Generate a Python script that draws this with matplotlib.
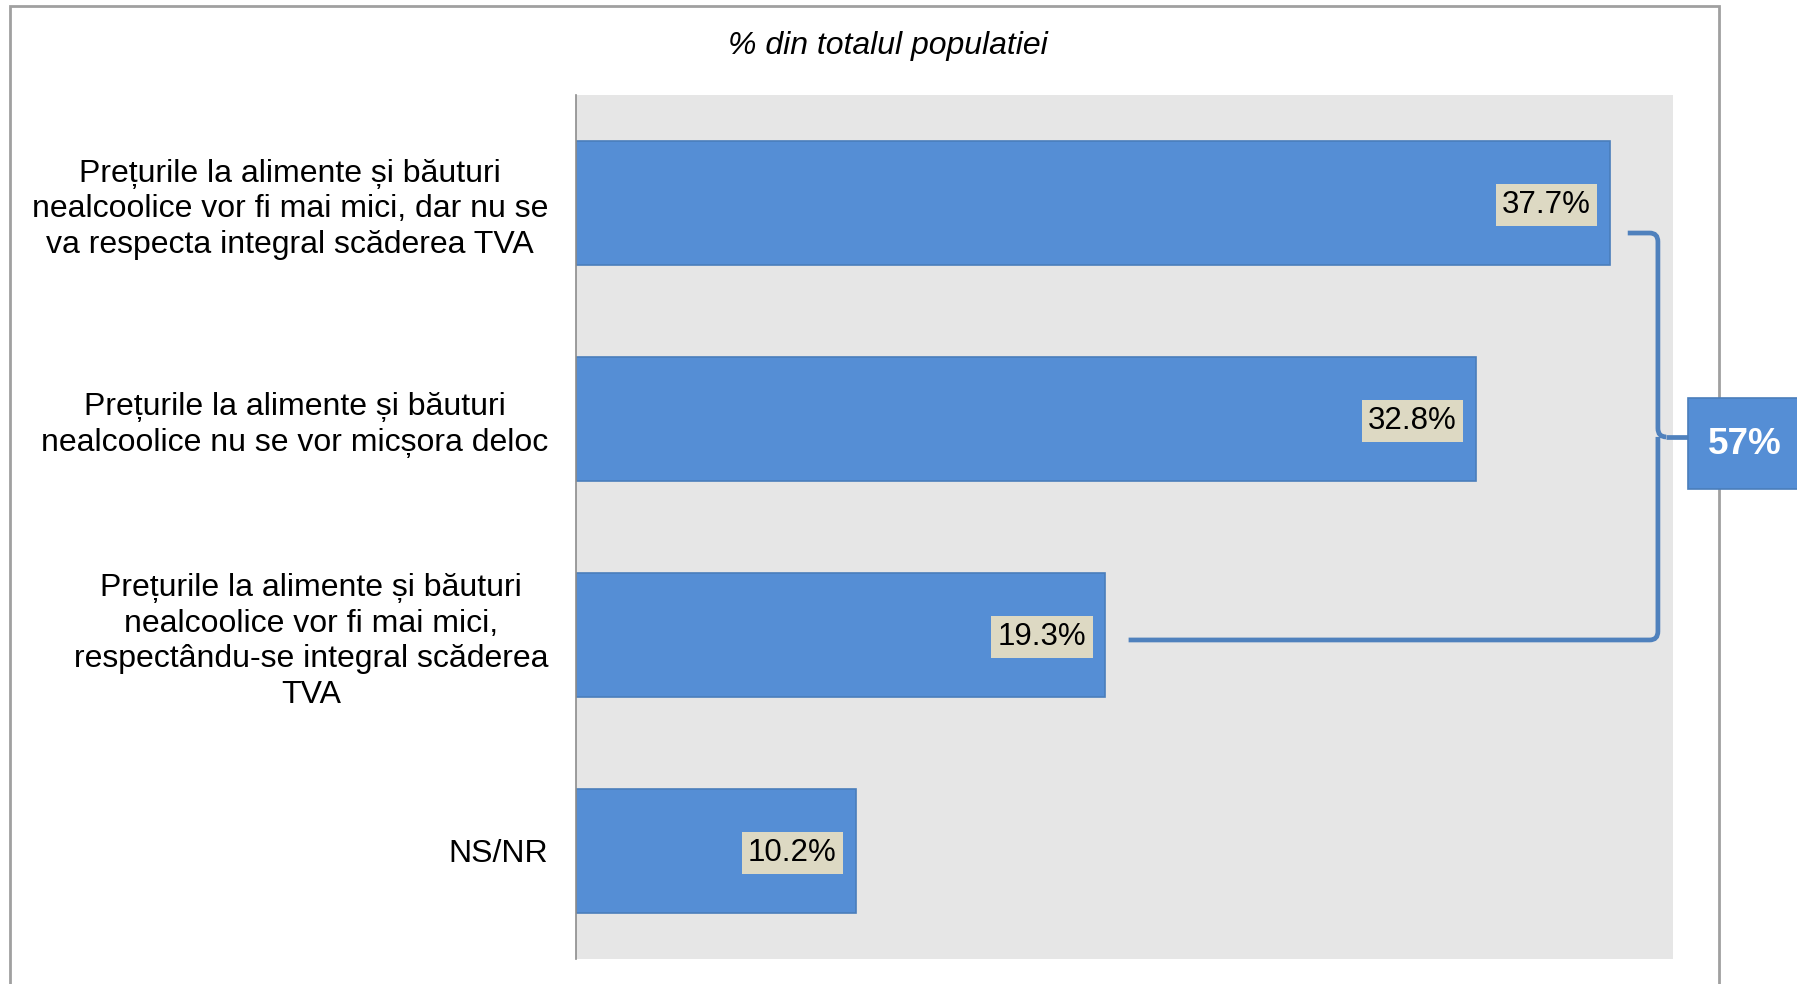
import matplotlib.pyplot as plt
import matplotlib.patches as mpatches
from matplotlib.path import Path

plt.rcParams['font.family'] = ['Liberation Sans', 'DejaVu Sans']

# date
categorii = [
    "Prețurile la alimente și băuturi\nnealcoolice vor fi mai mici, dar nu se\nva respecta integral scăderea TVA",
    "Prețurile la alimente și băuturi\nnealcoolice nu se vor micșora deloc",
    "Prețurile la alimente și băuturi\nnealcoolice vor fi mai mici,\nrespectându-se integral scăderea\nTVA",
    "NS/NR",
]
valori = [37.7, 32.8, 19.3, 10.2]
total_grup = "57%"
titlu = "% din totalul populatiei"

culoare_bara = "#558ED5"
culoare_margine = "#4A7EBB"
culoare_acolada = "#4F81BD"

W, H = 1797, 984
fig = plt.figure(figsize=(W / 100, H / 100), dpi=100)
ax = fig.add_axes([576 / W, 1 - 959 / H, (1673 - 576) / W, (959 - 95) / H])

y = list(range(len(valori)))
ax.barh(y, valori, height=0.574, color=culoare_bara, edgecolor=culoare_margine,
        linewidth=1.2, zorder=2)
ax.set_xlim(0, 40)
ax.set_ylim(len(valori) - 0.5, -0.5)
ax.set_facecolor("#E6E6E6")

ax.set_yticks(y)
ax.set_yticklabels(categorii, fontsize=23)
for lbl in ax.get_yticklabels():
    lbl.set_multialignment("center")
    lbl.set_linespacing(1.26)
ax.tick_params(axis="y", length=0, pad=20)
ax.set_xticks([])
for s in ["top", "right", "bottom"]:
    ax.spines[s].set_visible(False)
ax.spines["left"].set_color("#8C8C8C")
ax.spines["left"].set_linewidth(1.2)

# etichete valori
for i, v in enumerate(valori):
    ax.annotate(f"{v}%", xy=(v, i), xytext=(-19, -2), textcoords="offset pixels",
                ha="right", va="center", fontsize=22.5, color="black", zorder=4,
                bbox=dict(boxstyle="square,pad=0.2", fc="#DDD9C3", ec="none"))

# acolada pentru primele trei raspunsuri
xv = 39.45
rx, ry = 0.3, 0.04
y_sus = 0 + 0.139
y_jos = 2 + 0.023
y_mij = 1 + 0.083
x_sus = valori[0] + 0.65
x_jos = valori[2] + 0.85
verts = [
    (x_sus, y_sus), (xv - rx, y_sus), (xv, y_sus), (xv, y_sus + ry),
    (xv, y_mij - ry), (xv, y_mij), (xv + rx, y_mij),
    (xv, y_mij), (xv, y_mij + ry),
    (xv, y_jos - ry), (xv, y_jos), (xv - rx, y_jos), (x_jos, y_jos),
]
codes = [
    Path.MOVETO, Path.LINETO, Path.CURVE3, Path.CURVE3,
    Path.LINETO, Path.CURVE3, Path.CURVE3,
    Path.MOVETO, Path.CURVE3,
    Path.LINETO, Path.CURVE3, Path.CURVE3, Path.LINETO,
]
acolada = mpatches.PathPatch(Path(verts, codes), fill=False, ec=culoare_acolada,
                             lw=3.4, capstyle="butt", clip_on=False, zorder=3)
ax.add_patch(acolada)
ax.plot([xv + rx, 40.6], [y_mij, y_mij], color=culoare_acolada, lw=3.4,
        solid_capstyle="butt", clip_on=False, zorder=3)

# chenar exterior
chenar = mpatches.Rectangle((10 / W, -0.05), (1719 - 10) / W, 1.05 - 6 / H,
                            transform=fig.transFigure, fill=False,
                            ec="#A0A0A0", lw=2, zorder=0)
fig.patches.append(chenar)

# caseta total
caseta = mpatches.Rectangle((1688 / W, 1 - 489 / H), 0.1, (489 - 398) / H,
                            transform=fig.transFigure, fc=culoare_bara,
                            ec=culoare_margine, lw=1.2, zorder=5)
fig.patches.append(caseta)
fig.text(1745 / W, 1 - 444 / H, total_grup, ha="center", va="center",
         fontsize=26.6, fontweight="bold", color="white", zorder=6)

fig.text(888 / W, 1 - 46 / H, titlu, ha="center", va="center",
         fontsize=23, style="italic")

fig.savefig("out.png", dpi=100, facecolor="white")
